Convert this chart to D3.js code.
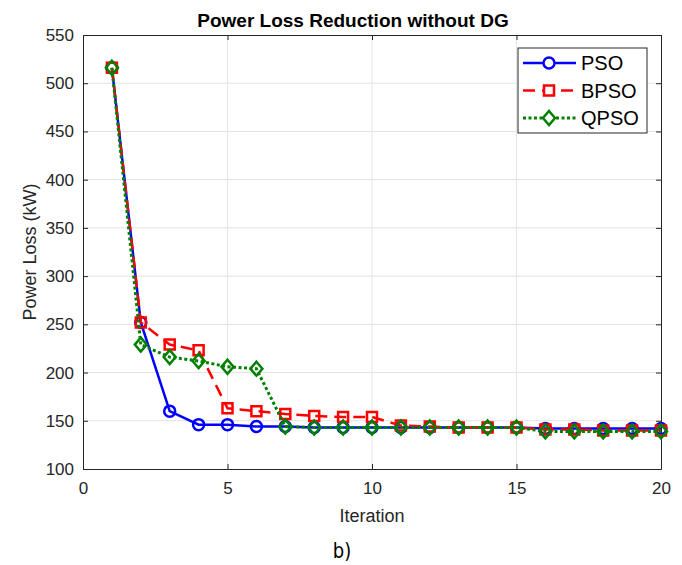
<!DOCTYPE html>
<html>
<head>
<meta charset="utf-8">
<script src="https://cdn.jsdelivr.net/npm/d3@7"></script>
<style>
body { margin: 0; background: #fff; }
text { font-family: "Liberation Sans", Arial, sans-serif; }
</style>
</head>
<body>
<div id="chart-area"></div>
<script>
// values
var iterations = [1,2,3,4,5,6,7,8,9,10,11,12,13,14,15,16,17,18,19,20];
var pso  = [516,252,160,146,146,144,144,143,143,143,143,143,143,143,143,142,142,142,142,142];
var bpso = [516,252,229,223,163,160,157,155,154,154,145,144,143,143,143,141,141,140,140,140];
var qpso = [516,229,216,212,206,204,144,143,143,143,143,143,143,143,143,139,139,139,139,139];
var xTicks = [0,5,10,15,20];
var yTicks = [100,150,200,250,300,350,400,450,500,550];

var width = 682, height = 565;
var margin = {left: 83, right: 21, top: 35, bottom: 96};

var svg = d3.select("#chart-area")
            .append("svg")
            .attr("width", width)
            .attr("height", height);

var x = d3.scaleLinear().domain([0, 20]).range([margin.left, width - margin.right]);
var y = d3.scaleLinear().domain([100, 550]).range([height - margin.bottom, margin.top]);

var axisCol = "#262626";

// grid
svg.append("g").selectAll("line").data(xTicks.slice(1, -1)).enter().append("line")
    .attr("x1", d => x(d)).attr("x2", d => x(d))
    .attr("y1", y(100)).attr("y2", y(550))
    .attr("stroke", "#e3e3e3").attr("stroke-width", 1);
svg.append("g").selectAll("line").data(yTicks.slice(1, -1)).enter().append("line")
    .attr("x1", x(0)).attr("x2", x(20))
    .attr("y1", d => y(d)).attr("y2", d => y(d))
    .attr("stroke", "#e3e3e3").attr("stroke-width", 1);

// axes (ticks inward, box on)
function styleAxis(g) {
    g.select(".domain").attr("stroke", axisCol);
    g.selectAll(".tick line").attr("stroke", axisCol);
    g.selectAll(".tick text").attr("fill", axisCol)
        .style("font-family", "'Liberation Sans', Arial, sans-serif").style("font-size", "17px");
}
svg.append("g").attr("transform", "translate(0," + y(100) + ")")
    .call(d3.axisBottom(x).tickValues(xTicks).tickSizeInner(-5).tickSizeOuter(0).tickPadding(13))
    .call(styleAxis);
svg.append("g").attr("transform", "translate(" + x(0) + ",0)")
    .call(d3.axisLeft(y).tickValues(yTicks).tickSizeInner(-5).tickSizeOuter(0).tickPadding(9))
    .call(styleAxis);
svg.append("g").attr("transform", "translate(0," + y(550) + ")")
    .call(d3.axisTop(x).tickValues(xTicks).tickSizeInner(-5).tickSizeOuter(0).tickFormat(""))
    .call(styleAxis);
svg.append("g").attr("transform", "translate(" + x(20) + ",0)")
    .call(d3.axisRight(y).tickValues(yTicks).tickSizeInner(-5).tickSizeOuter(0).tickFormat(""))
    .call(styleAxis);

// series
var series = [
    {name: "PSO",  values: pso,  color: "#0000ff", dash: null,  width: 2.5, marker: "circle"},
    {name: "BPSO", values: bpso, color: "#ff0000", dash: "12,7", width: 2.5, marker: "square"},
    {name: "QPSO", values: qpso, color: "#008000", dash: "3,2.5", width: 3, marker: "diamond"}
];

function markerPath(type) {
    if (type === "circle") return d3.symbol().type(d3.symbolCircle).size(95)();
    if (type === "square") return "M-5,-5L5,-5L5,5L-5,5Z";
    return "M0,-7L6,0L0,7L-6,0Z";
}

var line = d3.line().x((d, i) => x(iterations[i])).y(d => y(d));

series.forEach(function(s) {
    svg.append("path")
        .datum(s.values)
        .attr("d", line)
        .attr("fill", "none")
        .attr("stroke", s.color)
        .attr("stroke-width", s.width)
        .attr("stroke-dasharray", s.dash);
    svg.append("g").selectAll("path").data(s.values).enter().append("path")
        .attr("d", markerPath(s.marker))
        .attr("transform", (d, i) => "translate(" + x(iterations[i]) + "," + y(d) + ")")
        .attr("fill", "none")
        .attr("stroke", s.color)
        .attr("stroke-width", 2.5);
});

// title and labels
svg.append("text")
    .attr("x", (x(0) + x(20)) / 2 - 19).attr("y", 27)
    .attr("text-anchor", "middle")
    .attr("font-size", "19px").attr("font-weight", "bold")
    .attr("fill", "#000")
    .text("Power Loss Reduction without DG");

svg.append("text")
    .attr("x", (x(0) + x(20)) / 2).attr("y", 522)
    .attr("text-anchor", "middle")
    .attr("font-size", "18px").attr("fill", axisCol)
    .text("Iteration");

svg.append("text")
    .attr("transform", "rotate(-90)")
    .attr("x", -(y(100) + y(550)) / 2).attr("y", 36)
    .attr("text-anchor", "middle")
    .attr("font-size", "18px").attr("fill", axisCol)
    .text("Power Loss (kW)");

svg.append("text")
    .attr("transform", "translate(342,558) scale(0.82,1)")
    .attr("text-anchor", "middle")
    .style("font-family", "'DejaVu Sans', sans-serif")
    .attr("font-size", "22px").attr("fill", "#000")
    .text("b)");

// legend
var legend = svg.append("g").attr("transform", "translate(518,48)");
legend.append("rect").attr("width", 129).attr("height", 85)
    .attr("fill", "#fff").attr("stroke", axisCol).attr("stroke-width", 1);
series.forEach(function(s, i) {
    var ly = 15 + i * 27.5;
    legend.append("line")
        .attr("x1", 5).attr("x2", 58).attr("y1", ly).attr("y2", ly)
        .attr("stroke", s.color).attr("stroke-width", s.width)
        .attr("stroke-dasharray", s.dash);
    legend.append("path")
        .attr("d", markerPath(s.marker))
        .attr("transform", "translate(31," + ly + ")")
        .attr("fill", "#fff").attr("stroke", s.color).attr("stroke-width", 2.5);
    legend.append("text")
        .attr("x", 63).attr("y", ly + 7)
        .attr("font-size", "20px").attr("fill", "#000")
        .text(s.name);
});
</script>
</body>
</html>
